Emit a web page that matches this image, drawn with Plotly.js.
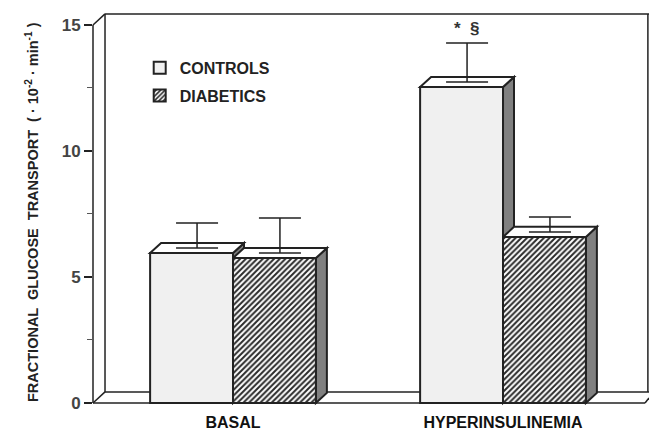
<!DOCTYPE html>
<html><head><meta charset="utf-8">
<script src="https://cdn.plot.ly/plotly-3.0.1.min.js"></script>
<style>html,body{margin:0;padding:0;background:#fff}#chart{width:649px;height:432px}</style>
</head><body><div id="chart"></div>
<script>
// ---- data ----
const categories = ['BASAL', 'HYPERINSULINEMIA'];
const seriesNames = ['CONTROLS', 'DIABETICS'];
const controlsMean = [5.95, 12.54];
const controlsSEM = [1.19, 1.75];
const diabeticsMean = [5.75, 6.59];
const diabeticsSEM = [1.59, 0.79];
const yTickVals = [0, 5, 10, 15];
const yTickText = ['0', '5', '10', '15'];
const sigLabel = '*  §';

// ---- geometry / style ----
const W = 0.307;            // bar width (x units)
const DX = 0.0407;          // 3D depth in x units
const DY = 0.40;            // 3D depth in y units
const FONT = 'Liberation Sans, Arial, Helvetica, sans-serif';
const ink = '#222';
const xIdx = categories.map((c, i) => i);

const traces = [
  {type: 'bar', name: seriesNames[0], x: xIdx, y: controlsMean, width: W, offset: -W,
   legendgroup: 'a',
   marker: {color: '#f0f0f0', line: {color: ink, width: 2}}},
  {type: 'bar', name: seriesNames[1], x: xIdx, y: diabeticsMean, width: W, offset: 0,
   legendgroup: 'b',
   marker: {color: '#ffffff', line: {color: ink, width: 2},
            pattern: {shape: '/', fgcolor: '#2a2a2a', bgcolor: '#ffffff', size: 4, solidity: 0.5}}},
  {type: 'scatter', mode: 'markers', showlegend: false,
   x: xIdx.map(i => i - W / 2 + DX / 2),
   y: controlsMean.map((m, i) => m + controlsSEM[i]),
   marker: {size: 0.1, color: 'rgba(0,0,0,0)'},
   error_y: {type: 'data', symmetric: false, array: controlsMean.map(() => 0),
             arrayminus: controlsSEM.map(s => s - DY / 2), color: ink, thickness: 1.5, width: 21}},
  {type: 'scatter', mode: 'markers', showlegend: false,
   x: xIdx.map(i => i + W / 2 + DX / 2),
   y: diabeticsMean.map((m, i) => m + diabeticsSEM[i]),
   marker: {size: 0.1, color: 'rgba(0,0,0,0)'},
   error_y: {type: 'data', symmetric: false, array: diabeticsMean.map(() => 0),
             arrayminus: diabeticsSEM.map(s => s - DY / 2), color: ink, thickness: 1.5, width: 21}}
];

// 3D faces for bars
const shapes = [];
const lineStyle = {color: ink, width: 1.5};
const wx = 0.0216;
const wallTop = 15.44;
const wall = [
  [0, 0, 0, 15],                 // y-axis line
  [0, 0, wx, DY + 0.04],         // floor diag left
  [0, 15, wx, wallTop],          // top diag left
  [wx, DY + 0.04, wx, wallTop],  // back wall left edge
  [wx, wallTop, 1, wallTop],     // top edge
  [wx, DY + 0.04, 1, DY + 0.04], // back floor line
  [0, 0, 0.9928, 0],             // front floor line
  [0.9928, 0, 1, DY * 0.5],      // right diag
  [0.998, DY + 0.04, 0.998, wallTop]
];
wall.forEach(s => shapes.push({type: 'line', layer: 'below', xref: 'paper', yref: 'y',
  x0: s[0], y0: s[1], x1: s[2], y1: s[3], line: lineStyle}));

function faces(x0, x1, h, sideColor) {
  const top = `M${x0},${h} L${x0 + DX},${h + DY} L${x1 + DX},${h + DY} L${x1},${h} Z`;
  const side = `M${x1},0 L${x1 + DX},${DY} L${x1 + DX},${h + DY} L${x1},${h} Z`;
  shapes.push({type: 'path', layer: 'below', xref: 'x', yref: 'y', path: side,
    fillcolor: sideColor, line: {color: ink, width: 2}});
  shapes.push({type: 'path', layer: 'below', xref: 'x', yref: 'y', path: top,
    fillcolor: '#ffffff', line: {color: ink, width: 2}});
}
xIdx.forEach(i => {
  faces(i - W, i, controlsMean[i], '#808080');
  faces(i, i + W, diabeticsMean[i], '#808080');
});

const annotations = [
  {xref: 'x', yref: 'y', x: 1 - W / 2 + DX / 2, y: controlsMean[1] + controlsSEM[1] + 0.12,
   yanchor: 'bottom', showarrow: false, text: sigLabel,
   font: {family: FONT, size: 17, color: '#333', weight: 700}},
  {xref: 'paper', yref: 'paper', x: -0.1097, y: 0.495, textangle: -90, showarrow: false,
   xanchor: 'center', yanchor: 'middle',
   text: 'FRACTIONAL  GLUCOSE  TRANSPORT  ( · 10<sup>-2</sup> · min<sup>-1</sup> )',
   font: {family: FONT, size: 14.5, color: '#222', weight: 700}}
];

const layout = {
  width: 649, height: 432,
  margin: {l: 93, r: 0, t: 10, b: 22, pad: 0},
  paper_bgcolor: '#ffffff', plot_bgcolor: 'rgba(0,0,0,0)',
  barmode: 'overlay',
  showlegend: true,
  legend: {x: 0.084, y: 0.898, xanchor: 'left', yanchor: 'top', bgcolor: 'rgba(0,0,0,0)',
           tracegroupgap: 4, traceorder: 'grouped',
           font: {family: FONT, size: 16, color: '#222', weight: 700}},
  xaxis: {range: [-0.5185, 1.5407], tickmode: 'array', tickvals: xIdx, ticktext: categories,
          showgrid: false, zeroline: false, showline: false, ticks: '', ticklabelstandoff: 1,
          tickfont: {family: FONT, size: 16, color: '#111', weight: 700}, fixedrange: true},
  yaxis: {range: [-0.278, 15.595], tickmode: 'array', tickvals: yTickVals, ticktext: yTickText,
          showgrid: false, zeroline: false, showline: false, ticks: 'outside', ticklen: 8,
          tickwidth: 1.5, tickcolor: ink,
          minor: {tickmode: 'array', tickvals: [2.5, 7.5, 12.5], ticks: 'outside', ticklen: 5, tickwidth: 1, tickcolor: '#555'},
          tickfont: {family: FONT, size: 17, color: '#444', weight: 700}, fixedrange: true},
  shapes: shapes,
  annotations: annotations
};

Plotly.newPlot('chart', traces, layout, {staticPlot: true, displayModeBar: false});
</script></body></html>
